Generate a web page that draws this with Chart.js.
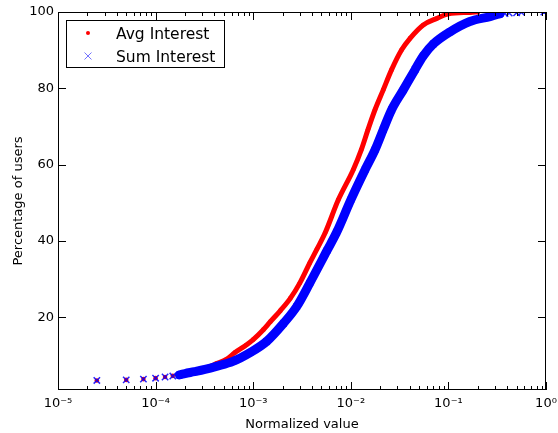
<!DOCTYPE html>
<html>
<head>
<meta charset="utf-8">
<script src="https://cdn.jsdelivr.net/npm/chart.js@4.4.1/dist/chart.umd.min.js"></script>
<style>
html,body{margin:0;padding:0;background:#fff;}
canvas{display:block;}
</style>
</head>
<body>
<canvas id="c" width="558" height="433"></canvas>
<script>
// ---- data ----
const seriesNames = ['Avg Interest', 'Sum Interest'];

const avgX = [2.5e-5, 5e-5, 7.5e-5, 1e-4, 1.25e-4, 1.5e-4, 1.75e-4, 2e-4, 2.4e-4, 2.85e-4,
  3.35e-4, 4.2e-4, 5.3e-4, 6.5e-4, 8.5e-4, 1.0e-3, 1.27e-3, 1.5e-3, 1.9e-3, 2.4e-3,
  3.0e-3, 3.8e-3, 4.5e-3, 5.45e-3, 7.45e-3, 1.06e-2, 1.28e-2, 1.50e-2, 1.77e-2, 2.15e-2,
  2.62e-2, 3.32e-2, 4.05e-2, 5.53e-2, 7.59e-2, 0.1, 0.166, 0.2];
const avgY = [3.5, 3.65, 3.85, 4.1, 4.4, 4.7, 5.0, 5.35, 5.85, 6.3,
  6.8, 7.9, 9.0, 10.8, 12.8, 14.2, 16.8, 18.9, 21.8, 25.0,
  29.0, 34.3, 37.9, 42.1, 50.8, 58.7, 63.9, 69.2, 74.4, 79.6,
  84.9, 90.1, 93.1, 96.6, 98.3, 99.5, 99.9, 100];

const sumX = [2.5e-5, 5e-5, 7.5e-5, 1e-4, 1.25e-4, 1.5e-4, 1.75e-4, 2e-4, 2.5e-4, 3.2e-4,
  4.2e-4, 6.2e-4, 9.3e-4, 1.37e-3, 2.05e-3, 2.8e-3, 3.8e-3, 5.7e-3, 7.16e-3, 1.0e-2,
  1.40e-2, 1.77e-2, 2.15e-2, 2.62e-2, 3.45e-2, 4.55e-2, 5.53e-2, 7.0e-2, 0.104, 0.166,
  0.267, 0.338, 0.38, 0.42, 0.5, 0.56, 0.95];
const sumY = [3.5, 3.65, 3.85, 4.1, 4.4, 4.65, 4.95, 5.3, 5.8, 6.4,
  7.2, 8.5, 10.8, 13.7, 18.5, 22.9, 29.0, 37.5, 42.3, 50.8,
  58.7, 63.9, 69.2, 74.4, 79.6, 84.9, 88.5, 91.6, 94.8, 97.5,
  98.8, 99.5, 99.6, 99.7, 99.8, 99.9, 100];

const xTickValues = [1e-5, 1e-4, 1e-3, 1e-2, 1e-1, 1];
const xTickLabels = ['10\u207B\u2075', '10\u207B\u2074', '10\u207B\u00B3', '10\u207B\u00B2', '10\u207B\u00B9', '10\u2070'];
const yTickValues = [20, 40, 60, 80, 100];
const minorMults = [2, 3, 4, 5, 6, 7, 8, 9];

const FONT = 'DejaVu Sans';
const RED = 'rgb(255,0,0)';
const BLUE = 'rgb(0,0,255)';
const TRANSPARENT = 'rgba(0,0,0,0)';

const avgData = avgX.map((v, i) => ({x: v, y: avgY[i]}));
const sumData = sumX.map((v, i) => ({x: v, y: sumY[i]}));

// ticks (inward, all four sides), frame and legend
const decoration = {
  id: 'decoration',
  afterDatasetsDraw(chart) {
    const {ctx, chartArea: a, scales: {x, y}} = chart;
    ctx.save();
    ctx.strokeStyle = '#000';
    ctx.lineWidth = 1;
    ctx.beginPath();
    xTickValues.forEach((v, i) => {
      const px = Math.round(x.getPixelForValue(v)) + 0.5;
      ctx.moveTo(px, a.bottom); ctx.lineTo(px, a.bottom - 8);
      ctx.moveTo(px, a.top); ctx.lineTo(px, a.top + 8);
      if (i < xTickValues.length - 1) {
        minorMults.forEach(m => {
          const q = Math.round(x.getPixelForValue(v * m)) + 0.5;
          ctx.moveTo(q, a.bottom); ctx.lineTo(q, a.bottom - 4);
          ctx.moveTo(q, a.top); ctx.lineTo(q, a.top + 4);
        });
      }
    });
    yTickValues.forEach(v => {
      const py = Math.round(y.getPixelForValue(v)) + 0.5;
      ctx.moveTo(a.left, py); ctx.lineTo(a.left + 8, py);
      ctx.moveTo(a.right, py); ctx.lineTo(a.right - 8, py);
    });
    ctx.stroke();
    ctx.strokeRect(Math.round(a.left) + 0.5, Math.round(a.top) + 0.5,
      Math.round(a.right - a.left) - 1, Math.round(a.bottom - a.top) - 1);

    // legend
    const lx = Math.round(a.left) + 8, ly = Math.round(a.top) + 8, lw = 158, lh = 47;
    ctx.fillStyle = '#fff';
    ctx.fillRect(lx, ly, lw, lh);
    ctx.strokeRect(lx + 0.5, ly + 0.5, lw, lh);
    const mx = lx + 22;
    const r1 = ly + 13, r2 = ly + 36;
    ctx.fillStyle = RED;
    ctx.beginPath(); ctx.arc(mx, r1, 2, 0, Math.PI * 2); ctx.fill();
    ctx.strokeStyle = 'rgba(0,0,255,0.55)';
    ctx.lineWidth = 1;
    ctx.beginPath();
    ctx.moveTo(mx - 3.5, r2 - 3.5); ctx.lineTo(mx + 3.5, r2 + 3.5);
    ctx.moveTo(mx + 3.5, r2 - 3.5); ctx.lineTo(mx - 3.5, r2 + 3.5);
    ctx.stroke();
    ctx.fillStyle = '#000';
    ctx.font = '15.5px "' + FONT + '"';
    ctx.textBaseline = 'alphabetic';
    ctx.textAlign = 'left';
    ctx.fillText(seriesNames[0], lx + 50, r1 + 6);
    ctx.fillText(seriesNames[1], lx + 50, r2 + 6);
    ctx.restore();
  }
};

new Chart(document.getElementById('c'), {
  type: 'scatter',
  data: {
    datasets: [
      {
        label: seriesNames[1],
        data: sumData,
        order: 0,
        showLine: true,
        cubicInterpolationMode: 'monotone',
        borderColor: BLUE,
        borderWidth: 9,
        borderJoinStyle: 'round',
        borderCapStyle: 'round',
        pointStyle: 'crossRot',
        pointRadius: 4.5,
        pointBorderWidth: 1.5,
        pointBorderColor: 'rgba(0,0,255,0.85)',
        pointBackgroundColor: 'rgba(0,0,255,0.85)',
        segment: {
          borderColor: c => (c.p0.parsed.x < 1.7e-4 || c.p0.parsed.x >= 0.33) ? TRANSPARENT : undefined
        }
      },
      {
        label: seriesNames[0],
        data: avgData,
        order: 1,
        showLine: true,
        cubicInterpolationMode: 'monotone',
        borderColor: RED,
        borderWidth: 5,
        borderJoinStyle: 'round',
        borderCapStyle: 'round',
        pointStyle: 'circle',
        pointRadius: 2.3,
        pointBorderWidth: 0,
        pointBackgroundColor: RED,
        segment: {
          borderColor: c => (c.p0.parsed.x < 1.7e-4) ? TRANSPARENT : undefined
        }
      }
    ]
  },
  options: {
    responsive: false,
    animation: false,
    layout: {padding: {top: 12, right: 12, left: 0, bottom: 0}},
    plugins: {
      legend: {display: false},
      tooltip: {enabled: false}
    },
    scales: {
      x: {
        type: 'logarithmic',
        position: 'bottom',
        min: 1e-5,
        max: 1,
        grid: {display: false, drawTicks: false},
        border: {display: false},
        afterBuildTicks: s => { s.ticks = xTickValues.map(v => ({value: v})); },
        afterFit: s => { s.height = 43; s.paddingLeft = 0; s.paddingRight = 0; },
        ticks: {
          autoSkip: false,
          maxRotation: 0,
          padding: 6,
          color: '#000',
          font: {family: FONT, size: 13},
          callback: (v, i) => xTickLabels[i]
        },
        title: {
          display: true,
          text: 'Normalized value',
          color: '#000',
          font: {family: FONT, size: 13},
          padding: {top: 0, bottom: 1}
        }
      },
      y: {
        type: 'linear',
        position: 'left',
        min: 1,
        max: 100,
        grid: {display: false, drawTicks: false},
        border: {display: false},
        afterBuildTicks: s => { s.ticks = yTickValues.map(v => ({value: v})); },
        afterFit: s => { s.width = 58; s.paddingTop = 0; s.paddingBottom = 0; },
        ticks: {
          padding: 4,
          color: '#000',
          font: {family: FONT, size: 13}
        },
        title: {
          display: true,
          text: 'Percentage of users',
          color: '#000',
          font: {family: FONT, size: 13},
          padding: {top: 10.5, bottom: 0}
        }
      }
    }
  },
  plugins: [decoration]
});
</script>
</body>
</html>
